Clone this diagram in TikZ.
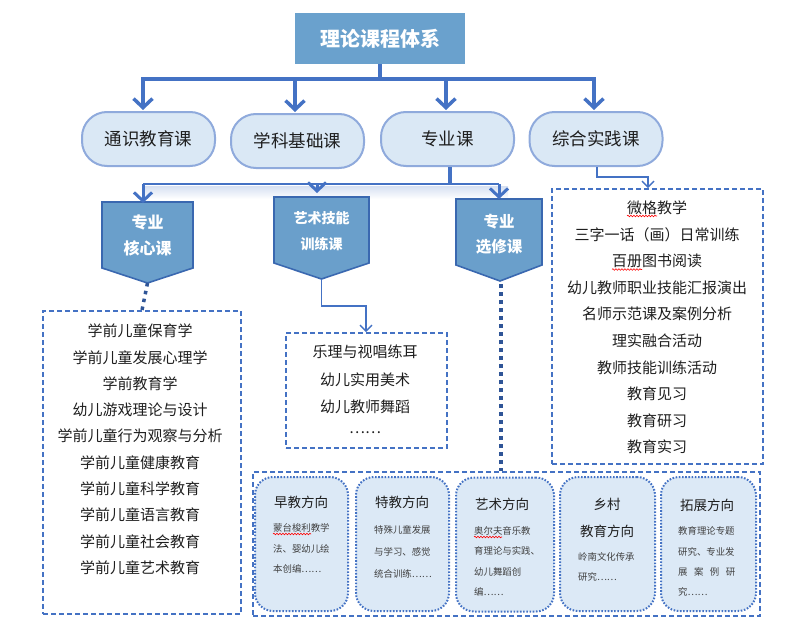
\documentclass[tikz,border=0pt]{standalone}
\usepackage{fontspec}
\setmainfont{Noto Sans CJK SC}
\usetikzlibrary{arrows.meta,decorations.pathmorphing,calc}
\definecolor{lineblue}{HTML}{4472C4}
\definecolor{titlefill}{HTML}{6AA1CD}
\definecolor{pentfill}{HTML}{6A9FCB}
\definecolor{pentborder}{HTML}{3A68B0}
\definecolor{roundfill}{HTML}{DAE8F5}
\definecolor{roundborder}{HTML}{8FAADC}
\definecolor{dotblue}{HTML}{2F5597}
\definecolor{innerfill}{HTML}{DCE9F6}
\definecolor{txtdark}{HTML}{1E1E1E}
\newcommand{\fsz}[1]{\fontsize{#1pt}{#1pt}\selectfont}
\begin{document}
\begin{tikzpicture}[x=1pt,y=-1pt,
  titlebox/.style={fill=titlefill, minimum width=170pt, minimum height=51pt, inner sep=0pt, text=white, font=\fsz{20}\bfseries},
  rbox/.style={fill=roundfill, draw=roundborder, line width=2pt, rounded corners=25pt, minimum width=133pt, minimum height=54pt, inner sep=0pt, text=txtdark, font=\fsz{17.5}},
  bar/.style={draw=lineblue, line width=4pt},
  toparrow/.style={draw=lineblue, line width=3.5pt, -{Straight Barb[length=9pt,width=19pt]}, shorten >=1pt},
  midline/.style={draw=lineblue, line width=2.2pt},
  midarrow/.style={draw=lineblue, line width=3pt, -{Straight Barb[length=8.5pt,width=18pt]}},
  pent/.style={fill=pentfill, draw=pentborder, line width=1.6pt, line join=miter},
  penttxt/.style={text=white, inner sep=0pt, font=\bfseries},
  dotconn/.style={draw=dotblue, line width=3.5pt, dash pattern=on 3.5pt off 4.5pt},
  thinarrow/.style={draw=lineblue, line width=1.6pt, -{Straight Barb[length=6pt,width=12pt,line width=1.4pt]}},
  dbox/.style={draw=lineblue, line width=1.6pt, dash pattern=on 5pt off 3pt, inner sep=0pt},
  ltxt/.style={inner sep=0pt, text=txtdark, font=\fsz{15}},
  ibox/.style={fill=innerfill, draw=lineblue, line width=2pt, dash pattern=on 1.6pt off 1.6pt, rounded corners=18pt, minimum height=134pt, inner sep=0pt},
  ititle/.style={inner sep=0pt, text=txtdark, font=\fsz{13.5}},
  ibody/.style={inner sep=0pt, anchor=west, text=txtdark!85, font=\fsz{9.4}},
  wavy/.style={draw=red, line width=0.6pt, decorate, decoration={snake, segment length=3pt, amplitude=0.8pt}}
]
\useasboundingbox (0,0) rectangle (790,637);

% title
\node[titlebox] (title) at (380,38.5) {理论课程体系};

% level 1 boxes
\node[rbox] (tsyk) at (148.5,139) {通识教育课};
\node[rbox] (xkjc) at (297.5,141) {学科基础课};
\node[rbox] (zyk)  at (447.5,139) {专业课};
\node[rbox] (zhsj) at (596,139) {综合实践课};

% top bar and arrows
\coordinate (b1) at (143,79);
\coordinate (b2) at (295,79);
\coordinate (b3) at (446,79);
\coordinate (b4) at (594,79);
\draw[bar] (title.south) -- (title.south |- b1);
\draw[bar] ([xshift=-2pt]b1) -- ([xshift=2pt]b4);
\draw[toparrow] (b1) -- (b1 |- tsyk.north);
\draw[toparrow] (b2) -- (b2 |- xkjc.north);
\draw[toparrow] (b3) -- (b3 |- zyk.north);
\draw[toparrow] (b4) -- (b4 |- zhsj.north);

% shadow band under mid line
\fill[top color=lineblue!22, bottom color=white] (145,186) rectangle (508,199);

% pentagons
\path[pent] (102,202) -- (193,202) -- (193,268) -- (147.5,283) -- (102,268) -- cycle;
\coordinate (kc-top) at (147.5,202);
\coordinate (kc-tip) at (147.5,283);
\path[pent] (274,197) -- (369,197) -- (369,263) -- (321.5,279) -- (274,263) -- cycle;
\coordinate (ys-top) at (321.5,197);
\coordinate (ys-tip) at (321.5,279);
\path[pent] (456,199) -- (542,199) -- (542,265) -- (500,281) -- (456,265) -- cycle;
\coordinate (xx-top) at (500,199);
\coordinate (xx-tip) at (500,281);

\node[penttxt, font=\fsz{16}\bfseries] (kc-t1) at (147.5,222) {专业};
\node[penttxt, font=\fsz{16}\bfseries] (kc-t2) at (147.5,248) {核心课};
\node[penttxt, font=\fsz{14}\bfseries] (ys-t1) at (321.5,218) {艺术技能};
\node[penttxt, font=\fsz{14}\bfseries] (ys-t2) at (321.5,244) {训练课};
\node[penttxt, font=\fsz{15.5}\bfseries] (xx-t1) at (499,222) {专业};
\node[penttxt, font=\fsz{15.5}\bfseries] (xx-t2) at (499,247) {选修课};

% mid connectors
\coordinate (m0) at (450,184);
\coordinate (mL) at (143,184);
\coordinate (mM) at (317,184);
\coordinate (mR) at (499,184);
\draw[draw=lineblue, line width=3.5pt] (m0 |- zyk.south) -- (m0);
\draw[midline] (mL) -- (mR);
\draw[midarrow] (mL) -- ([yshift=-1pt]mL |- kc-top);
\draw[midarrow] (mM) -- ([yshift=4pt]mM |- ys-top);
\draw[midarrow] (mR) -- (mR |- xx-top);

% list boxes
\node[dbox, minimum width=198pt, minimum height=303pt] (kc-list) at (142,462.5) {};
\node[dbox, minimum width=161pt, minimum height=115pt] (ys-list) at (366.5,390.5) {};
\node[dbox, minimum width=211pt, minimum height=275pt] (zh-list) at (657.5,326.5) {};
\node[dbox, minimum width=507pt, minimum height=144pt] (fx-box) at (506.5,544) {};

% connectors to lists
\draw[dotconn] (kc-tip) -- (kc-list.north);
\coordinate (ysbend) at (366,306);
\draw[thinarrow] (ys-tip) |- (ysbend) -- (ysbend |- ys-list.north);
\coordinate (xxl) at (501,284);
\draw[dotconn] (xxl) -- (xxl |- fx-box.north);
\coordinate (zh1) at (597,177);
\coordinate (zh2) at (648,177);
\draw[thinarrow] (zh1 |- zhsj.south) -- (zh1) -- (zh2) -- (zh2 |- zh-list.north);

% core list
\node[ltxt] (k1)  at (140,331) {学前儿童保育学};
\node[ltxt] (k2)  at (140,357.3) {学前儿童发展心理学};
\node[ltxt] (k3)  at (140,383.6) {学前教育学};
\node[ltxt] (k4)  at (140,409.9) {幼儿游戏理论与设计};
\node[ltxt] (k5)  at (140,436.2) {学前儿童行为观察与分析};
\node[ltxt] (k6)  at (140,462.5) {学前儿童健康教育};
\node[ltxt] (k7)  at (140,488.8) {学前儿童科学教育};
\node[ltxt] (k8)  at (140,515.1) {学前儿童语言教育};
\node[ltxt] (k9)  at (140,541.4) {学前儿童社会教育};
\node[ltxt] (k10) at (140,567.7) {学前儿童艺术教育};

% art skills list
\node[ltxt] (y1) at (365,352) {乐理与视唱练耳};
\node[ltxt] (y2) at (365,379.5) {幼儿实用美术};
\node[ltxt] (y3) at (365,407) {幼儿教师舞蹈};
\node[ltxt] (y4) at (365,433) {……};

% practice list
\node[ltxt] (z1)  at (657,208) {微格教学};
\node[ltxt] (z2)  at (657,234.5) {三字一话（画）日常训练};
\node[ltxt] (z3)  at (657,261) {百册图书阅读};
\node[ltxt] (z4)  at (657,287.6) {幼儿教师职业技能汇报演出};
\node[ltxt] (z5)  at (657,314.2) {名师示范课及案例分析};
\node[ltxt] (z6)  at (657,340.8) {理实融合活动};
\node[ltxt] (z7)  at (657,367.4) {教师技能训练活动};
\node[ltxt] (z8)  at (657,394) {教育见习};
\node[ltxt] (z9)  at (657,420.6) {教育研习};
\node[ltxt] (z10) at (657,447.2) {教育实习};
\draw[wavy] (627,216) -- (657,216);
\draw[wavy] (612,269.5) -- (642,269.5);

% inner direction boxes
\node[ibox, minimum width=93pt] (ib1) at (301.5,544) {};
\node[ibox, minimum width=93pt] (ib2) at (402.5,544) {};
\node[ibox, minimum width=98pt] (ib3) at (505,544.5) {};
\node[ibox, minimum width=95pt] (ib4) at (607.5,544) {};
\node[ibox, minimum width=95pt] (ib5) at (708.5,544) {};

\node[ititle] (ib1-t) at (301,502) {早教方向};
\node[ibody] (ib1-a) at (273,528) {蒙台梭利教学};
\node[ibody] (ib1-b) at (273,549) {法、婴幼儿绘};
\node[ibody] (ib1-c) at (273,569) {本创编……};
\draw[wavy] (273,534) -- (311,534);

\node[ititle] (ib2-t) at (402,502) {特教方向};
\node[ibody] (ib2-a) at (374,530) {特殊儿童发展};
\node[ibody] (ib2-b) at (374,552) {与学习、感觉};
\node[ibody] (ib2-c) at (374,574) {统合训练……};

\node[ititle] (ib3-t) at (502,504) {艺术方向};
\node[ibody] (ib3-a) at (474,531) {奥尔夫音乐教};
\node[ibody] (ib3-b) at (474,551) {育理论与实践、};
\node[ibody] (ib3-c) at (474,572) {幼儿舞蹈创};
\node[ibody] (ib3-d) at (474,592) {编……};
\draw[wavy] (474,537) -- (502,537);

\node[ititle] (ib4-t1) at (607,504) {乡村};
\node[ititle] (ib4-t2) at (607,531) {教育方向};
\node[ibody] (ib4-a) at (578,557) {岭南文化传承};
\node[ibody] (ib4-b) at (578,577) {研究……};

\node[ititle] (ib5-t) at (707,505) {拓展方向};
\node[ibody] (ib5-a) at (678,531) {教育理论专题};
\node[ibody] (ib5-b) at (678,552) {研究、专业发};
\node[ibody] (ib5-c) at (678,572) {\makebox[57pt][s]{展\hfill 案\hfill 例\hfill 研}};
\node[ibody] (ib5-d) at (678,592) {究……};
\end{tikzpicture}
\end{document}
